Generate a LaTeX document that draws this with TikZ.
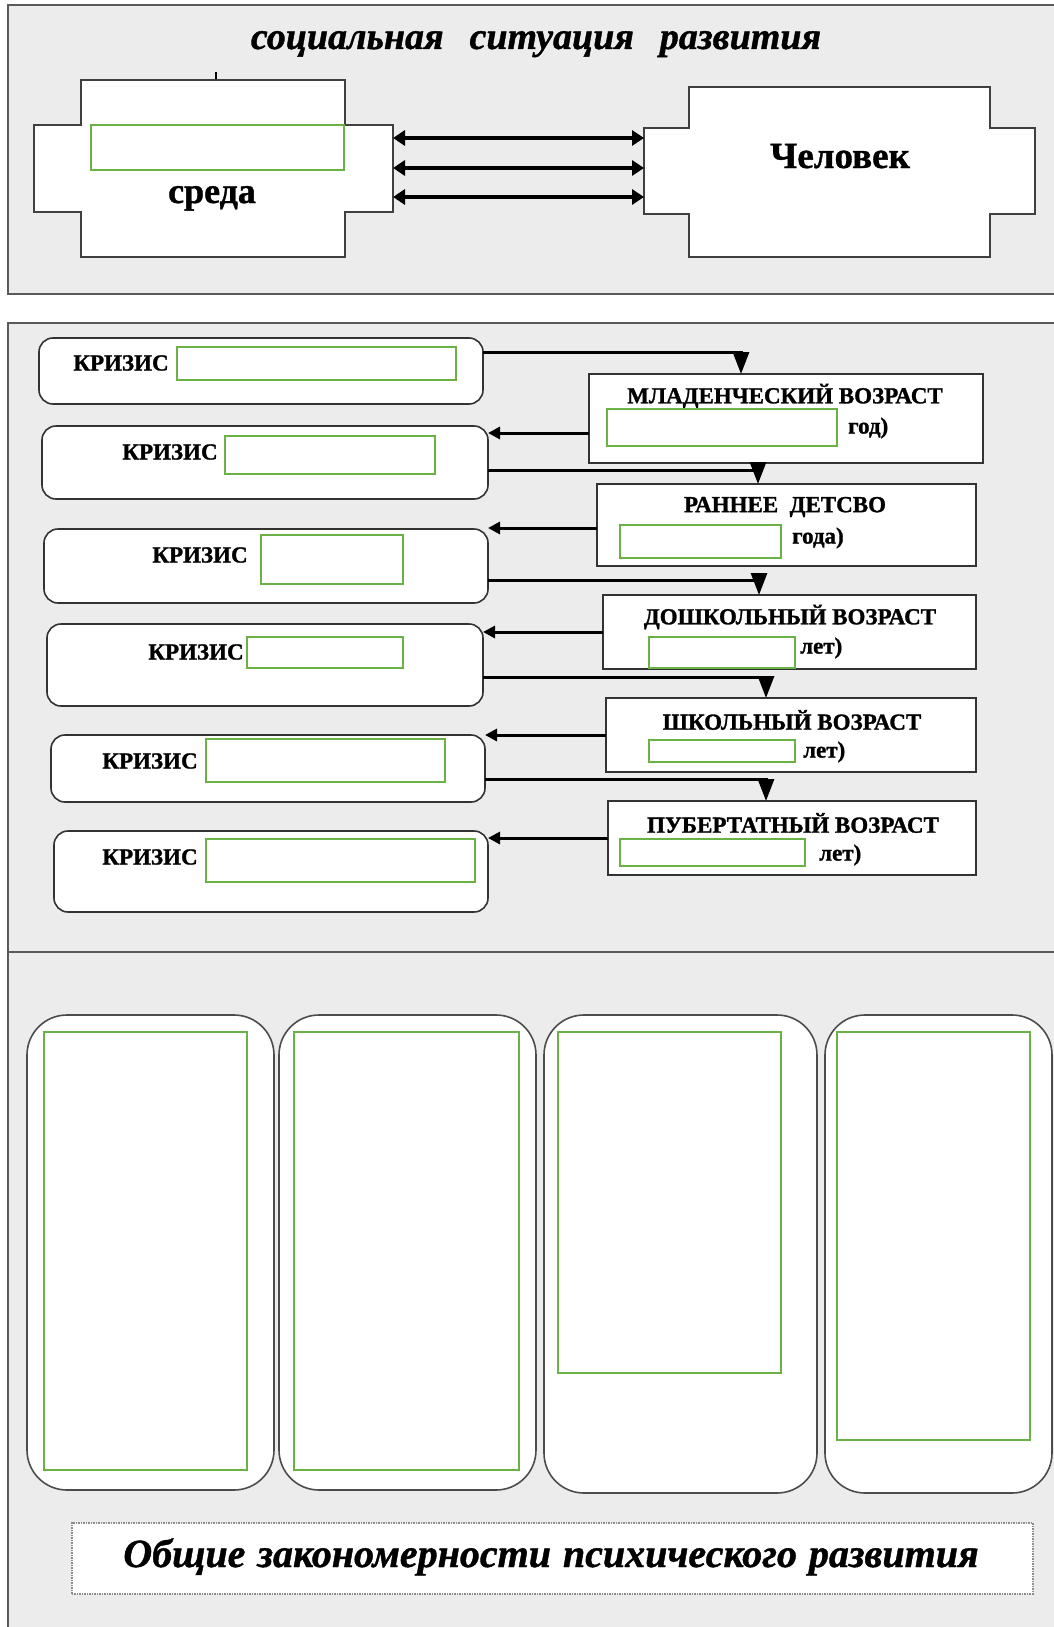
\documentclass[tikz,border=0pt]{standalone}
\usepackage{fontspec}
\setmainfont{Liberation Serif}
\usetikzlibrary{arrows.meta,calc}
\definecolor{gbox}{RGB}{106,178,70}
\definecolor{secbg}{RGB}{236,236,236}
\definecolor{frm}{RGB}{90,90,90}
\begin{document}
\begin{tikzpicture}[x=1pt,y=-1pt,
  sec/.style={fill=secbg, draw=frm, line width=2pt},
  kbox/.style={draw=black!80, line width=1.6pt, fill=white, rounded corners=14pt, inner sep=0pt, outer sep=0pt, anchor=north west},
  abox/.style={draw=black!80, line width=1.6pt, fill=white, inner sep=0pt, outer sep=0pt, anchor=north west},
  gbx/.style={draw=gbox, line width=2.4pt, fill=white, inner sep=0pt, outer sep=0pt, anchor=north west},
  colbox/.style={draw=black!70, line width=1.6pt, fill=white, rounded corners=40pt, inner sep=0pt, outer sep=0pt, anchor=north west},
  ktxt/.style={font=\fontsize{23}{26}\selectfont\bfseries\addfontfeature{FakeBold=1.2}, inner sep=0pt},
  wing/.style={inner sep=0pt, outer sep=0pt, anchor=north west},
  conn/.style={line width=3pt, -{Triangle[length=12pt,width=12pt]}},
  dconn/.style={line width=3pt, -{Triangle[length=22pt,width=16pt]}},
  bconn/.style={line width=3.8pt, {Triangle[length=12pt,width=15pt]}-{Triangle[length=12pt,width=15pt]}},
  crossline/.style={draw=black!75, line width=1.8pt, fill=white},
]
\useasboundingbox (0,0) rectangle (1054,1627);
\clip (0,0) rectangle (1054,1627);
\fill[white] (0,0) rectangle (1054,1627);

% sections
\draw[sec] (8,5) rectangle (1070,294);
\draw[sec] (8,323) rectangle (1070,952);
\draw[sec] (8,952) rectangle (1070,1640);

% ---------- section 1 ----------
\node[font=\fontsize{38}{40}\selectfont\bfseries\itshape\addfontfeature{FakeBold=1}, anchor=base, inner sep=0pt] (title) at (536,49)
  {социальная\hspace{26pt}ситуация\hspace{26pt}развития};

\draw[line width=1.5pt] (216,72) -- (216,80);
\draw[crossline] (81,80) -- (345,80) -- (345,125) -- (393,125) -- (393,212) -- (345,212)
  -- (345,257) -- (81,257) -- (81,212) -- (34,212) -- (34,125) -- (81,125) -- cycle;
\node[wing, minimum width=359pt, minimum height=87pt] (sreda) at (34,125) {};
\node[gbx, minimum width=253pt, minimum height=45pt] (gsreda) at (91,125) {};
\node[font=\fontsize{36}{38}\selectfont\bfseries\addfontfeature{FakeBold=1}, anchor=base, inner sep=0pt] (sredatxt) at (212,203) {среда};

\draw[crossline] (689,87) -- (990,87) -- (990,128) -- (1035,128) -- (1035,214) -- (990,214)
  -- (990,257) -- (689,257) -- (689,214) -- (644,214) -- (644,128) -- (689,128) -- cycle;
\node[wing, minimum width=391pt, minimum height=86pt] (chel) at (644,128) {};
\node[font=\fontsize{37}{40}\selectfont\bfseries\addfontfeature{FakeBold=1}, anchor=base, inner sep=0pt] (cheltxt) at (840,168) {Человек};

\draw[bconn] ([yshift=30.5pt]sreda.east) -- ([yshift=30.5pt]sreda.east -| chel.west);
\draw[bconn] ([yshift=0.5pt]sreda.east) -- ([yshift=0.5pt]sreda.east -| chel.west);
\draw[bconn] ([yshift=-28.5pt]sreda.east) -- ([yshift=-28.5pt]sreda.east -| chel.west);

% ---------- section 2 ----------
% crisis boxes
\node[kbox, minimum width=444pt, minimum height=66pt] (K1) at (39,338) {};
\node[kbox, minimum width=446pt, minimum height=73pt] (K2) at (42,426) {};
\node[kbox, minimum width=444pt, minimum height=74pt] (K3) at (44,529) {};
\node[kbox, minimum width=436pt, minimum height=82pt] (K4) at (47,624) {};
\node[kbox, minimum width=434pt, minimum height=67pt] (K5) at (51,735) {};
\node[kbox, minimum width=434pt, minimum height=81pt] (K6) at (54,831) {};

\node[gbx, minimum width=279pt, minimum height=33pt] (gk1) at (177,347) {};
\node[gbx, minimum width=210pt, minimum height=38pt] (gk2) at (225,436) {};
\node[gbx, minimum width=142pt, minimum height=49pt] (gk3) at (261,535) {};
\node[gbx, minimum width=156pt, minimum height=31pt] (gk4) at (247,637) {};
\node[gbx, minimum width=239pt, minimum height=43pt] (gk5) at (206,739) {};
\node[gbx, minimum width=269pt, minimum height=43pt] (gk6) at (206,839) {};

\node[ktxt] (kt1) at (121,363) {КРИЗИС};
\node[ktxt] (kt2) at (170,452) {КРИЗИС};
\node[ktxt] (kt3) at (200,555) {КРИЗИС};
\node[ktxt] (kt4) at (196,652) {КРИЗИС};
\node[ktxt] (kt5) at (150,761) {КРИЗИС};
\node[ktxt] (kt6) at (150,857) {КРИЗИС};

% age boxes
\node[abox, minimum width=394pt, minimum height=89pt] (A1) at (589,374) {};
\node[abox, minimum width=379pt, minimum height=82pt] (A2) at (597,484) {};
\node[abox, minimum width=373pt, minimum height=74pt] (A3) at (603,595) {};
\node[abox, minimum width=370pt, minimum height=74pt] (A4) at (606,698) {};
\node[abox, minimum width=368pt, minimum height=74pt] (A5) at (608,801) {};

\node[ktxt] (at1) at (785,396) {МЛАДЕНЧЕСКИЙ ВОЗРАСТ};
\node[ktxt] (at2) at (785,507) {РАННЕЕ\ \ ДЕТСВО};
\node[ktxt] (at3) at (790,617) {ДОШКОЛЬНЫЙ ВОЗРАСТ};
\node[ktxt] (at4) at (792,720) {ШКОЛЬНЫЙ ВОЗРАСТ};
\node[ktxt] (at5) at (793,823) {ПУБЕРТАТНЫЙ ВОЗРАСТ};

\node[gbx, minimum width=230pt, minimum height=37pt] (ga1) at (607,409) {};
\node[gbx, minimum width=161pt, minimum height=33pt] (ga2) at (620,525) {};
\node[gbx, minimum width=146pt, minimum height=31pt] (ga3) at (649,637) {};
\node[gbx, minimum width=146pt, minimum height=22pt] (ga4) at (649,740) {};
\node[gbx, minimum width=185pt, minimum height=27pt] (ga5) at (620,839) {};

\node[ktxt, anchor=west] (as1) at (848,428) {год)};
\node[ktxt, anchor=west] (as2) at (792,538) {года)};
\node[ktxt, anchor=west] (as3) at (800,648) {лет)};
\node[ktxt, anchor=west] (as4) at (803,752) {лет)};
\node[ktxt, anchor=west] (as5) at (819,855) {лет)};

% connectors
\draw[dconn] ([yshift=19pt]K1.east) -| ([xshift=-45pt]A1.north);
\draw[conn] ([yshift=-14.5pt]A1.west) -- ([yshift=-14.5pt]A1.west -| K2.east);
\draw[dconn] ([yshift=-7.5pt]K2.east) -| ([xshift=-28.5pt]A2.north);
\draw[conn] ([yshift=-3pt]A2.west) -- ([yshift=-3pt]A2.west -| K3.east);
\draw[dconn] ([yshift=-14pt]K3.east) -| ([xshift=-30.5pt]A3.north);
\draw[conn] (A3.west) -- (A3.west -| K4.east);
\draw[dconn] ([yshift=-12pt]K4.east) -| ([xshift=-25pt]A4.north);
\draw[conn] (A4.west) -- (A4.west -| K5.east);
\draw[dconn] ([yshift=-10.5pt]K5.east) -| ([xshift=-26pt]A5.north);
\draw[conn] (A5.west) -- (A5.west -| K6.east);

% ---------- section 3 ----------
\node[colbox, minimum width=247pt, minimum height=475pt] (c1) at (27,1015) {};
\node[colbox, minimum width=257pt, minimum height=475pt] (c2) at (279,1015) {};
\node[colbox, minimum width=273pt, minimum height=478pt] (c3) at (544,1015) {};
\node[colbox, minimum width=227pt, minimum height=478pt] (c4) at (825,1015) {};

\node[gbx, minimum width=203pt, minimum height=438pt] (gc1) at (44,1032) {};
\node[gbx, minimum width=225pt, minimum height=438pt] (gc2) at (294,1032) {};
\node[gbx, minimum width=223pt, minimum height=341pt] (gc3) at (558,1032) {};
\node[gbx, minimum width=193pt, minimum height=408pt] (gc4) at (837,1032) {};

\node[draw=black!45, densely dotted, line width=1.5pt, fill=white, inner sep=0pt, anchor=north west,
  minimum width=961pt, minimum height=71pt] (lbl) at (71,1522) {};
\node[font=\fontsize{40}{42}\selectfont\bfseries\itshape\addfontfeature{FakeBold=1}, anchor=base, inner sep=0pt] (lbltxt) at (551,1567)
  {Общие\hspace{12pt}закономерности\hspace{12pt}психического\hspace{12pt}развития};
\end{tikzpicture}
\end{document}
